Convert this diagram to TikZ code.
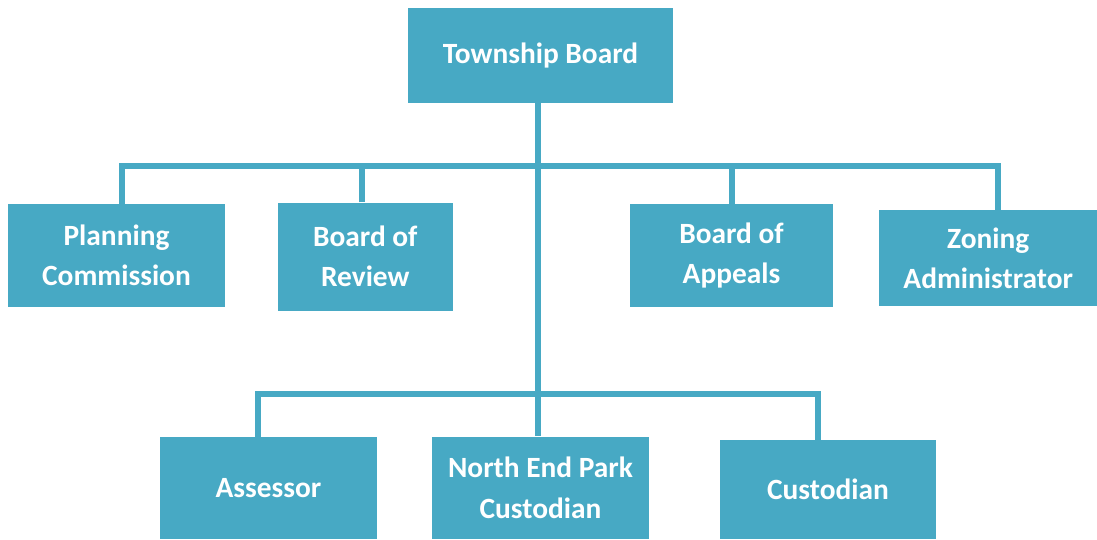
\documentclass[tikz,border=0pt]{standalone}
\usepackage{fontspec}
\setmainfont{Carlito}
\usetikzlibrary{calc}
\definecolor{orgblue}{HTML}{47A9C4}
\begin{document}
\begin{tikzpicture}[x=0.025cm,y=-0.025cm,
                    main node/.style={rectangle,fill=orgblue,text=white,align=center,inner sep=0pt,
                                      font=\fontsize{20.9}{28.5}\selectfont\bfseries},
                    link/.style={draw=orgblue,line width=4.27pt}]
        \useasboundingbox (0,0) rectangle (1097,539);

        % Define vertices
        \node[main node,minimum width=6.625cm,minimum height=2.375cm] (board) at (540.5,55.5) {Township Board};
        \node[main node,minimum width=5.425cm,minimum height=2.5875cm] (plan) at (116.5,255.7) {Planning\\Commission};
        \node[main node,minimum width=4.3675cm,minimum height=2.7cm] (review) at (365.3,256.7) {Board of\\Review};
        \node[main node,minimum width=5.075cm,minimum height=2.575cm] (appeals) at (731.5,255.5) {Board of\\Appeals};
        \node[main node,minimum width=5.4425cm,minimum height=2.3925cm] (zoning) at (988.2,257.9) {Zoning\\Administrator};
        \node[main node,minimum width=5.425cm,minimum height=2.535cm] (assessor) at (268.5,488) {Assessor};
        \node[main node,minimum width=5.425cm,minimum height=2.5575cm] (park) at (540.5,487.8) {North End Park\\Custodian};
        \node[main node,minimum width=5.4cm,minimum height=2.4675cm] (custodian) at (828,489.3) {Custodian};

        % Draw edges
        \coordinate (topbus) at (537.5,166);
        \coordinate (lowbus) at (537.5,393.5);
        \draw[link] (board.south -| topbus) -- (park.north -| topbus);
        \draw[link] ($(plan.north)+(5.8,0)$) |- (topbus) -| ($(zoning.north)+(9.3,0)$);
        \draw[link] ($(review.north)+(-3.3,0)$) |- (topbus);
        \draw[link] ($(appeals.north)+(0.5,0)$) |- (topbus);
        \draw[link] ($(assessor.north)+(-10.8,0)$) |- (lowbus) -| ($(custodian.north)+(-10.5,0)$);

        \end{tikzpicture}
\end{document}
